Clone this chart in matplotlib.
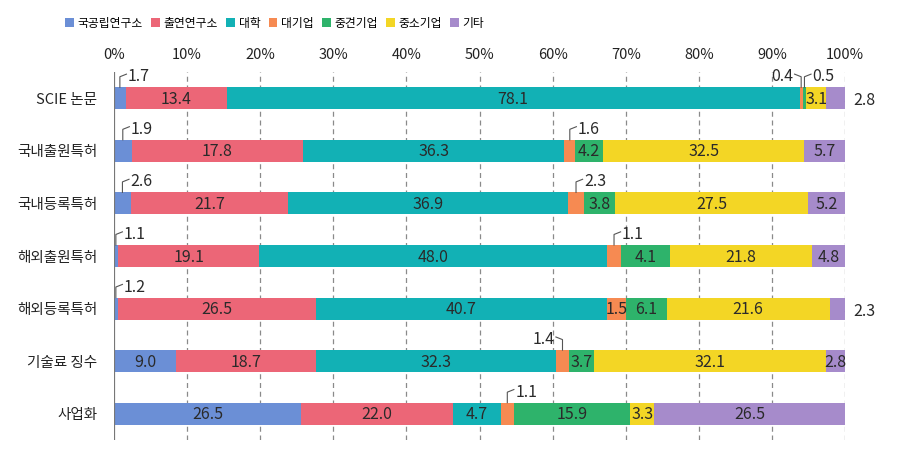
import numpy as np
import matplotlib
matplotlib.use("Agg")
from matplotlib import pyplot as plt

plt.rcParams['font.family'] = ['Noto Sans CJK KR', 'DejaVu Sans']

##### data #####
rows = ['SCIE 논문', '국내출원특허', '국내등록특허', '해외출원특허', '해외등록특허', '기술료 징수', '사업화']
groups = ['국공립연구소', '출연연구소', '대학', '대기업', '중견기업', '중소기업', '기타']
colors = ['#6b8fd6', '#ec6677', '#12b1b5', '#f68a52', '#2eb36b', '#f3d625', '#a68bcb']

# printed values (%)
gov_lab = [1.7, 1.9, 2.6, 1.1, 1.2, 9.0, 26.5]
gri = [13.4, 17.8, 21.7, 19.1, 26.5, 18.7, 22.0]
univ = [78.1, 36.3, 36.9, 48.0, 40.7, 32.3, 4.7]
large = [0.4, 1.6, 2.3, 1.1, 1.5, 1.4, 1.1]
middle = [0.5, 4.2, 3.8, 4.1, 6.1, 3.7, 15.9]
small = [3.1, 32.5, 27.5, 21.8, 21.6, 32.1, 3.3]
etc = [2.8, 5.7, 5.2, 4.8, 2.3, 2.8, 26.5]

# segment lengths as drawn in the source graphic (not quite the printed numbers)
gov_lab_w = [1.6, 2.4, 2.3, 0.5, 0.5, 8.5, 25.6]
gri_w = [13.8, 23.5, 21.5, 19.4, 27.1, 19.1, 20.8]
univ_w = [78.4, 35.7, 38.3, 47.5, 39.8, 32.9, 6.5]
large_w = [0.4, 1.5, 2.2, 2.0, 2.6, 1.7, 1.8]
middle_w = [0.5, 3.8, 4.2, 6.7, 5.6, 3.4, 15.9]
small_w = [2.7, 27.5, 26.5, 19.4, 22.3, 31.8, 3.3]
etc_w = [2.6, 5.6, 5.0, 4.5, 2.1, 2.6, 26.1]

# labels that sit outside the bar: (row, group) -> where
callouts = {(0, 0): 'up', (0, 3): 'upleft', (0, 4): 'up', (0, 6): 'right',
            (1, 0): 'up', (1, 3): 'up',
            (2, 0): 'up', (2, 3): 'up',
            (3, 0): 'up', (3, 3): 'up',
            (4, 0): 'up', (4, 6): 'right',
            (5, 3): 'upleft',
            (6, 3): 'up'}

values = [gov_lab, gri, univ, large, middle, small, etc]
widths = [gov_lab_w, gri_w, univ_w, large_w, middle_w, small_w, etc_w]

fig = plt.figure(figsize=(9.1, 4.68), dpi=100)
ax = fig.add_axes([0.1253, 0.0598, 0.8033, 0.7863])

y = np.arange(len(rows))
bar_h = 0.42
txt = '#2a2a2a'
lc = '#555555'
left = np.zeros(len(rows))
bars = []
for j in range(len(groups)):
    w = np.array(widths[j])
    b = ax.barh(y, w, left=left, height=bar_h, color=colors[j], label=groups[j], zorder=3)
    bars.append(b)
    for i in range(len(rows)):
        v = values[j][i]
        xc = left[i] + w[i] / 2
        top = y[i] - bar_h / 2
        mode = callouts.get((i, j))
        if mode is None:
            ax.text(xc, y[i] + 0.02, f'{v:.1f}', ha='center', va='center', fontsize=11.5, color=txt, zorder=5)
        elif mode == 'up':
            ax.plot([xc, xc, xc + 0.9], [top, top - 0.2, top - 0.25], color=lc, lw=0.8, zorder=4)
            ax.text(xc + 1.1, top - 0.2, f'{v:.1f}', ha='left', va='center', fontsize=11.5, color=txt)
        elif mode == 'upleft':
            ax.plot([xc, xc, xc - 0.9], [top, top - 0.2, top - 0.25], color=lc, lw=0.8, zorder=4)
            ax.text(xc - 1.1, top - 0.2, f'{v:.1f}', ha='right', va='center', fontsize=11.5, color=txt)
        elif mode == 'right':
            end = left[i] + w[i]
            ax.plot([end, end + 0.8], [y[i] + 0.05, y[i] + 0.05], color=lc, lw=0.8, zorder=4)
            ax.text(end + 1.1, y[i] + 0.05, f'{v:.1f}', ha='left', va='center', fontsize=11.5, color=txt)
    left = left + w

#####axes#####
ax.set_xlim(0, 100)
ax.set_ylim(6.5, -0.5)
ax.set_yticks(y)
ax.set_yticklabels(rows, fontsize=10.5)
ax.set_xticks(np.arange(0, 101, 10))
ax.set_xticklabels([f'{t}%' for t in range(0, 101, 10)], fontsize=10.5)
ax.xaxis.tick_top()
ax.tick_params(axis='x', length=0, pad=7, colors='#222222')
ax.tick_params(axis='y', length=0, pad=12, colors='#222222')
for s in ax.spines.values():
    s.set_visible(False)
for t in range(10, 101, 10):
    ax.axvline(t, color='#8a8a8a', lw=0.9, ls=(0, (4, 3)), zorder=1)
ax.axvline(0, color='#777777', lw=1.6, zorder=4)

fig.legend(handles=bars, labels=groups, loc='center left', bbox_to_anchor=(0.06, 0.95), ncol=7,
           frameon=False, fontsize=8.5, handlelength=0.75, handleheight=0.75, handletextpad=0.3,
           columnspacing=0.7)

plt.savefig('out.png', dpi=100)
